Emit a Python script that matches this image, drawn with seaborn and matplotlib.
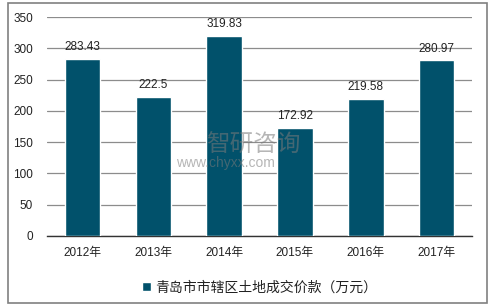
import matplotlib
matplotlib.use("Agg")
import matplotlib.pyplot as plt
import seaborn as sns
import pandas as pd
from matplotlib.patches import Rectangle

years = ["2012年", "2013年", "2014年", "2015年", "2016年", "2017年"]
values = [283.43, 222.5, 319.83, 172.92, 219.58, 280.97]
labels = ["283.43", "222.5", "319.83", "172.92", "219.58", "280.97"]
series_name = "青岛市市辖区土地成交价款（万元）"
yticks = [0, 50, 100, 150, 200, 250, 300, 350]

sns.set_theme(style="white")
plt.rcParams['font.family'] = ['Liberation Sans', 'Noto Sans CJK SC', 'DejaVu Sans']

color = "#01516B"
df = pd.DataFrame({"year": years, "value": values})

fig = plt.figure(figsize=(4.96, 3.06), dpi=100)
ax = fig.add_axes([0.0948, 0.2288, 0.857, 0.7156])
sns.barplot(data=df, x="year", y="value", color=color, width=0.5,
            saturation=1, ax=ax, zorder=3, label=series_name)

ax.set_ylim(0, 350)
ax.set_yticks(yticks)
ax.set_xlim(-0.5, len(years) - 0.5)
ax.yaxis.grid(True, color="#8c8c8c", linewidth=0.9, zorder=0)
ax.set_axisbelow(True)
for s in ["left", "right", "top"]:
    ax.spines[s].set_visible(False)
ax.spines["bottom"].set_color("#333333")
ax.spines["bottom"].set_linewidth(1.0)
ax.set_xlabel("")
ax.set_ylabel("")
ax.tick_params(axis="both", length=0, labelsize=8.5, colors="#222222")
ax.tick_params(axis="x", pad=8)
ax.tick_params(axis="y", pad=10)

for i, (v, t) in enumerate(zip(values, labels)):
    ax.text(i, v + 9, t, ha="center", va="bottom", fontsize=8.5, color="#222222", zorder=5)

# watermark
fig.text(0.415, 0.505, "智研咨询", fontsize=17, color="#7a7a7a", alpha=0.55,
         family=['Noto Sans CJK SC'], zorder=10)
fig.text(0.355, 0.455, "www.chyxx.com", fontsize=10, color="#7a7a7a", alpha=0.55, zorder=10)

leg = ax.legend(loc="upper center", bbox_to_anchor=(0.5, -0.145), frameon=False,
                fontsize=10, handlelength=0.7, handleheight=0.7, handletextpad=0.3)
for txt in leg.get_texts():
    txt.set_color("#222222")

fig.patches.append(Rectangle((8 / 496, 3 / 306), 479 / 496, 300 / 306,
                             transform=fig.transFigure, fill=False,
                             edgecolor="#808080", linewidth=1.2))

fig.savefig("out.png", dpi=100)
